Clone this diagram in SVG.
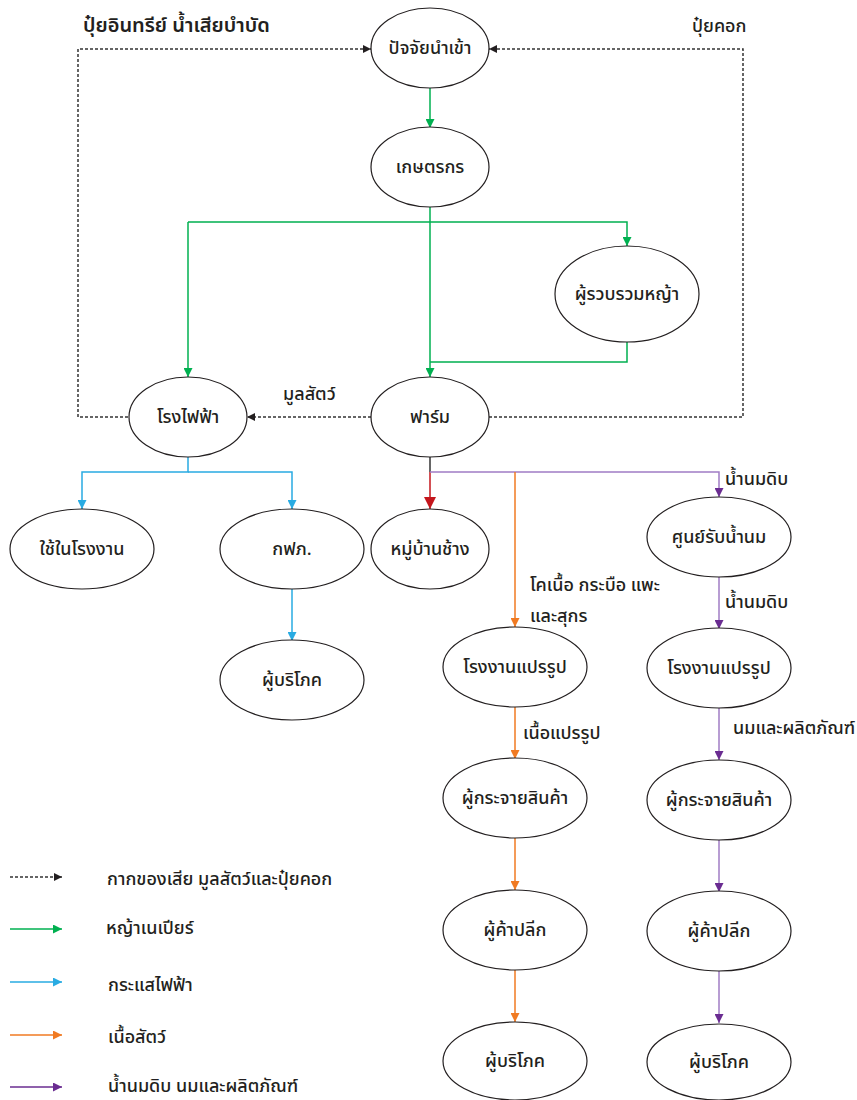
<svg xmlns="http://www.w3.org/2000/svg" width="857" height="1100" viewBox="0 0 857 1100">
<style>
.n ellipse{fill:#fff;stroke:#231f20;stroke-width:1.2}
text{font-family:"Noto Sans Thai","Noto Sans","DejaVu Sans",sans-serif;fill:#231f20;font-size:18px;font-weight:500}
text.t{font-size:20px;font-weight:600}
.n text{text-anchor:middle;dominant-baseline:central}
.c path{fill:none;stroke-width:1.5}
.d{stroke:#333;stroke-dasharray:3 2;stroke-width:1}
.g{stroke:#00b050}
.b{stroke:#29abe2}
.o{stroke:#f07a22}
.p{stroke:#a07cc5}
</style>
<defs>
<marker id="mk" viewBox="0 0 10 10" refX="10" refY="5" markerWidth="8" markerHeight="8" markerUnits="userSpaceOnUse" orient="auto"><path d="M0,0L10,5L0,10z" fill="#231f20"/></marker>
<marker id="mg" viewBox="0 0 10 10" refX="10" refY="5" markerWidth="9" markerHeight="9" markerUnits="userSpaceOnUse" orient="auto"><path d="M0,0L10,5L0,10z" fill="#00b050"/></marker>
<marker id="mb" viewBox="0 0 10 10" refX="10" refY="5" markerWidth="9" markerHeight="9" markerUnits="userSpaceOnUse" orient="auto"><path d="M0,0L10,5L0,10z" fill="#29abe2"/></marker>
<marker id="mo" viewBox="0 0 10 10" refX="10" refY="5" markerWidth="9" markerHeight="9" markerUnits="userSpaceOnUse" orient="auto"><path d="M0,0L10,5L0,10z" fill="#f07a22"/></marker>
<marker id="mp" viewBox="0 0 10 10" refX="10" refY="5" markerWidth="9" markerHeight="9" markerUnits="userSpaceOnUse" orient="auto"><path d="M0,0L10,5L0,10z" fill="#6a2c91"/></marker>
<marker id="mr" viewBox="0 0 10 10" refX="10" refY="5" markerWidth="14" markerHeight="12" markerUnits="userSpaceOnUse" orient="auto"><path d="M0,0L10,5L0,10z" fill="#c4161c"/></marker>
</defs>

<g id="connectors" class="c">
<path class="g" d="M430,88V128" marker-end="url(#mg)"/>
<path class="g" d="M430,207V377" marker-end="url(#mg)"/>
<path class="g" d="M188,222H627V246" marker-end="url(#mg)"/>
<path class="g" d="M188,222V377" marker-end="url(#mg)"/>
<path class="g" d="M627,342V362H430"/>
<path class="d" d="M128,417H78V49H371" marker-end="url(#mk)"/>
<path class="d" d="M489,417H743V49H489" marker-end="url(#mk)"/>
<path class="d" d="M371,417H247" marker-end="url(#mk)"/>
<path class="b" d="M188,457V472H82V509" marker-end="url(#mb)"/>
<path class="b" d="M188,472H292V509" marker-end="url(#mb)"/>
<path class="b" d="M292,589V641" marker-end="url(#mb)"/>
<path d="M430,457V472" stroke="#333" stroke-width="1.5"/>
<path d="M430,472V509" stroke="#c4161c" stroke-width="1.5" marker-end="url(#mr)"/>
<path class="p" d="M430,472H719V497" marker-end="url(#mp)"/>
<path class="o" d="M515,472V627" marker-end="url(#mo)"/>
<path class="o" d="M515,706V759" marker-end="url(#mo)"/>
<path class="o" d="M515,837V890" marker-end="url(#mo)"/>
<path class="o" d="M515,969V1022" marker-end="url(#mo)"/>
<path class="p" d="M719,577V629" marker-end="url(#mp)"/>
<path class="p" d="M719,708V760" marker-end="url(#mp)"/>
<path class="p" d="M719,839V892" marker-end="url(#mp)"/>
<path class="p" d="M719,970V1023" marker-end="url(#mp)"/>
</g>

<g id="edge-labels">
<text class="t" x="83" y="32">ปุ๋ยอินทรีย์ น้ำเสียบำบัด</text>
<text x="692" y="32">ปุ๋ยคอก</text>
<text x="283" y="400">มูลสัตว์</text>
<text x="725" y="485">น้ำนมดิบ</text>
<text x="725" y="608">น้ำนมดิบ</text>
<text x="530" y="591">โคเนื้อ กระบือ แพะ</text>
<text x="530" y="622">และสุกร</text>
<text x="523" y="739">เนื้อแปรรูป</text>
<text x="733" y="734">นมและผลิตภัณฑ์</text>
</g>

<g id="n-input" class="n"><ellipse cx="430" cy="48" rx="59" ry="40"/><text x="430" y="48">ปัจจัยนำเข้า</text></g>
<g id="n-farmer" class="n"><ellipse cx="430" cy="167" rx="59" ry="40"/><text x="430" y="167">เกษตรกร</text></g>
<g id="n-collector" class="n"><ellipse cx="627" cy="294" rx="72" ry="48"/><text x="627" y="294">ผู้รวบรวมหญ้า</text></g>
<g id="n-farm" class="n"><ellipse cx="430" cy="417" rx="59" ry="40"/><text x="430" y="417">ฟาร์ม</text></g>
<g id="n-power" class="n"><ellipse cx="188" cy="417" rx="59" ry="40"/><text x="188" y="417">โรงไฟฟ้า</text></g>
<g id="n-factoryuse" class="n"><ellipse cx="82" cy="549" rx="72" ry="40"/><text x="82" y="549">ใช้ในโรงงาน</text></g>
<g id="n-pea" class="n"><ellipse cx="292" cy="549" rx="72" ry="40"/><text x="292" y="549">กฟภ.</text></g>
<g id="n-consumer1" class="n"><ellipse cx="292" cy="680" rx="72" ry="40"/><text x="292" y="680">ผู้บริโภค</text></g>
<g id="n-village" class="n"><ellipse cx="430" cy="549" rx="59" ry="40"/><text x="430" y="549">หมู่บ้านช้าง</text></g>
<g id="n-milkcenter" class="n"><ellipse cx="719" cy="537" rx="72" ry="40"/><text x="719" y="537">ศูนย์รับน้ำนม</text></g>
<g id="n-meatplant" class="n"><ellipse cx="515" cy="667" rx="72" ry="40"/><text x="515" y="667">โรงงานแปรรูป</text></g>
<g id="n-milkplant" class="n"><ellipse cx="719" cy="668" rx="72" ry="40"/><text x="719" y="668">โรงงานแปรรูป</text></g>
<g id="n-dist1" class="n"><ellipse cx="515" cy="798" rx="72" ry="40"/><text x="515" y="798">ผู้กระจายสินค้า</text></g>
<g id="n-dist2" class="n"><ellipse cx="719" cy="800" rx="72" ry="40"/><text x="719" y="800">ผู้กระจายสินค้า</text></g>
<g id="n-retail1" class="n"><ellipse cx="515" cy="930" rx="72" ry="40"/><text x="515" y="930">ผู้ค้าปลีก</text></g>
<g id="n-retail2" class="n"><ellipse cx="719" cy="931" rx="72" ry="40"/><text x="719" y="931">ผู้ค้าปลีก</text></g>
<g id="n-consumer2" class="n"><ellipse cx="515" cy="1061" rx="72" ry="39"/><text x="515" y="1061">ผู้บริโภค</text></g>
<g id="n-consumer3" class="n"><ellipse cx="719" cy="1062" rx="72" ry="38"/><text x="719" y="1062">ผู้บริโภค</text></g>

<g id="legend" class="c">
<path class="d" d="M10,877H62" marker-end="url(#mk)"/>
<path class="g" d="M10,929H62" marker-end="url(#mg)"/>
<path class="b" d="M10,982H62" marker-end="url(#mb)"/>
<path class="o" d="M10,1035H62" marker-end="url(#mo)"/>
<path d="M10,1087H62" stroke="#6a2c91" stroke-width="1.5" marker-end="url(#mp)"/>
<text x="107" y="885">กากของเสีย มูลสัตว์และปุ๋ยคอก</text>
<text x="106" y="934">หญ้าเนเปียร์</text>
<text x="108" y="991">กระแสไฟฟ้า</text>
<text x="108" y="1043">เนื้อสัตว์</text>
<text x="108" y="1092">น้ำนมดิบ นมและผลิตภัณฑ์</text>
</g>
</svg>
